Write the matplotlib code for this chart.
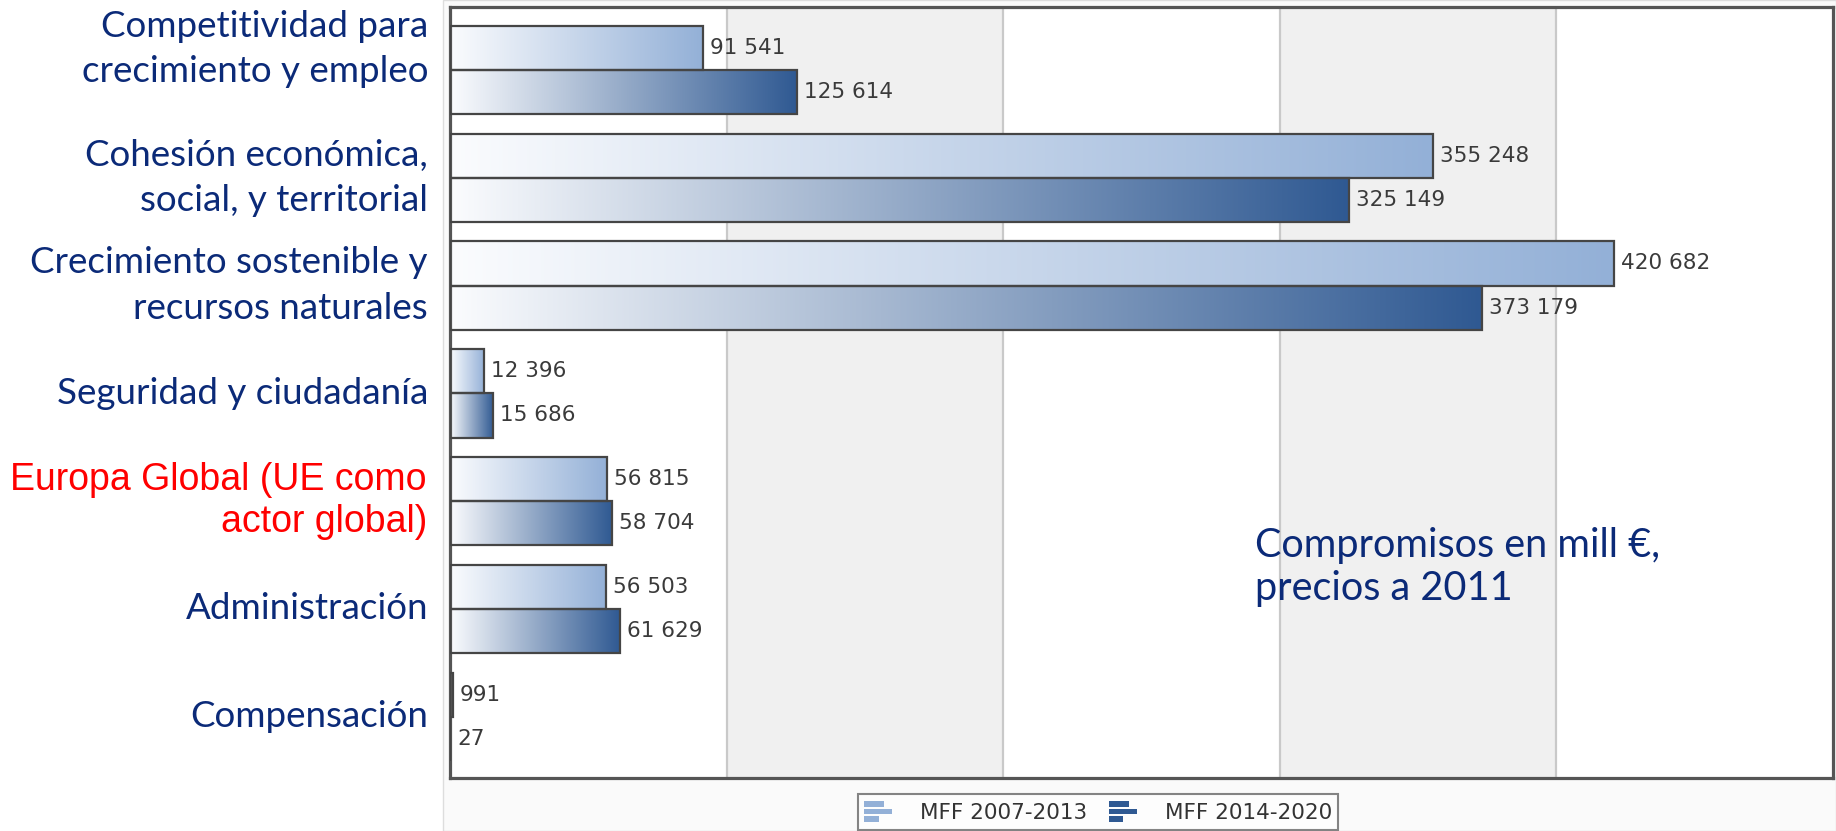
import numpy as np
import matplotlib
matplotlib.use("Agg")
import matplotlib.pyplot as plt
from matplotlib.colors import to_rgb
from matplotlib.patches import Rectangle
from matplotlib.legend_handler import HandlerBase

# datos (millones de euros, precios 2011)
categorias = [
    "Competitividad para\ncrecimiento y empleo",
    "Cohesión económica,\nsocial, y territorial",
    "Crecimiento sostenible y\nrecursos naturales",
    "Seguridad y ciudadanía",
    "Europa Global (UE como\nactor global)",
    "Administración",
    "Compensación",
]
mff_2007_2013 = [91541, 355248, 420682, 12396, 56815, 56503, 991]
mff_2014_2020 = [125614, 325149, 373179, 15686, 58704, 61629, 27]
series_nombres = ["MFF 2007-2013", "MFF 2014-2020"]

azul_texto = "#0b2a78"
colores_fin = ["#93b0d7", "#2f5992"]
color_ini = "#fbfcfe"

W, H = 1836, 831
fig = plt.figure(figsize=(W / 100, H / 100), dpi=100)
fig.patches.append(Rectangle((443 / W, 0), 1 - 443 / W, 1, transform=fig.transFigure,
                             facecolor="#fafafa", edgecolor="#dddddd", lw=1, zorder=-5))
ax = fig.add_axes([450 / W, 1 - 778 / H, (1833 - 450) / W, (778 - 7) / H])
ax.set_facecolor("white")

# bandas y lineas de rejilla
for a, b in [(100000, 200000), (300000, 400000)]:
    ax.axvspan(a, b, color="#f0f0f0", zorder=0, lw=0)
for x in [100000, 200000, 300000, 400000]:
    ax.axvline(x, color="#c9c9c9", lw=1.6, zorder=1)

h = 0.41
y = np.arange(len(categorias))


def gradiente(c0, c1, n=256):
    c0, c1 = np.array(to_rgb(c0)), np.array(to_rgb(c1))
    t = np.linspace(0, 1, n)[:, None]
    return (c0 + (c1 - c0) * t)[None, :, :]


for k, (vals, dy) in enumerate([(mff_2007_2013, -h / 2), (mff_2014_2020, h / 2)]):
    barras = ax.barh(y + dy, vals, height=h, facecolor="none",
                     edgecolor="#454545", linewidth=1.6, zorder=3)
    img = gradiente(color_ini, colores_fin[k])
    for rect, v in zip(barras, vals):
        y0 = rect.get_y()
        im = ax.imshow(img, extent=[0, v, y0 + h, y0], aspect="auto",
                       interpolation="bilinear", zorder=2)
        im.set_clip_path(rect)
        ax.annotate(f"{v:,}".replace(",", " "), xy=(v, y0 + h / 2),
                    xytext=(7, 0), textcoords="offset pixels",
                    ha="left", va="center", fontsize=15.5,
                    family="DejaVu Sans", color="#3a3a3a", zorder=4)

ax.set_xlim(0, 500000)
ax.set_ylim(6.568, -0.584)
ax.set_xticks([])
ax.set_yticks([])
for s in ax.spines.values():
    s.set_color("#555555")
    s.set_linewidth(2.3)

# etiquetas de categorias
for i, cat in enumerate(categorias):
    desplaz = 21 if i == 0 else 0
    if i == 4:
        ax.annotate(cat, xy=(0, i), xycoords=("axes fraction", "data"),
                    xytext=(-23, desplaz), textcoords="offset pixels",
                    ha="right", va="center", ma="right", fontsize=27,
                    family="Liberation Sans", color="#ff0000", linespacing=1.2)
    else:
        ax.annotate(cat, xy=(0, i), xycoords=("axes fraction", "data"),
                    xytext=(-22, desplaz), textcoords="offset pixels",
                    ha="right", va="center", ma="right", fontsize=26.5,
                    family="Lato", color=azul_texto, linespacing=1.45)

fig.text(1255 / W, 1 - 567 / H, "Compromisos en mill €,\nprecios a 2011",
         ha="left", va="center", fontsize=28.5, family="Lato",
         color=azul_texto, linespacing=1.2)


# icono de leyenda: tres barritas
class IconoBarras(HandlerBase):
    def create_artists(self, legend, orig_handle, xdescent, ydescent,
                       width, height, fontsize, trans):
        color = orig_handle.get_facecolor()
        arts = []
        bh = height / 4.2
        for j, frac in enumerate([0.72, 1.0, 0.52]):
            yy = -ydescent + height - (j + 1) * bh * 1.35 + bh * 0.2
            r = Rectangle((-xdescent, yy), width * frac, bh, facecolor=color,
                          edgecolor="none", transform=trans)
            arts.append(r)
        return arts


handles = [Rectangle((0, 0), 1, 1, facecolor=c) for c in colores_fin]
leg = fig.legend(handles, series_nombres, loc="center",
                 bbox_to_anchor=(1098 / W, 1 - 812 / H),
                 handler_map={Rectangle: IconoBarras()}, ncol=2,
                 prop={"family": "DejaVu Sans", "size": 15.5},
                 frameon=True, fancybox=False, edgecolor="#666666",
                 handlelength=1.3, handleheight=1.3, handletextpad=1.3,
                 columnspacing=1.0, borderpad=0.3, labelcolor="#333333")
leg.get_frame().set_linewidth(1.5)

fig.savefig("out.png", dpi=100, facecolor="white")
